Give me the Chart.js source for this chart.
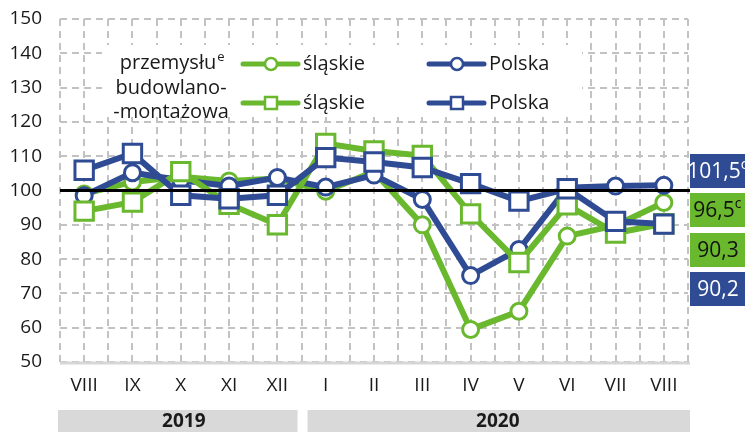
<!DOCTYPE html>
<html>
<head>
<meta charset="utf-8">
<script src="https://cdn.jsdelivr.net/npm/chart.js@4"></script>
<style>
html,body{margin:0;padding:0;background:#fff;}
#wrap{width:745px;height:432px;position:relative;}
</style>
</head>
<body>
<div id="wrap"><canvas id="c"></canvas></div>
<script>
const months = ['VIII','IX','X','XI','XII','I','II','III','IV','V','VI','VII','VIII'];
const years = ['2019','2020'];
const slaskieCircle = [99, 102.5, 104, 102.8, 103.5, 99.8, 105.5, 90, 59.5, 64.8, 86.7, 89.8, 96.5];
const polskaCircle  = [98.5, 105.2, 103, 101.3, 103.8, 101, 104.5, 97.4, 75.2, 82.8, 100.8, 101.3, 101.5];
const slaskieSquare = [94, 96.6, 105.5, 96, 90, 113.7, 111.5, 110.2, 93.2, 79, 95.8, 87.6, 90.3];
const polskaSquare  = [105.9, 110.8, 98.6, 97.6, 98.6, 109.6, 108.3, 106.7, 102, 96.9, 100.5, 91, 90.2];
const endLabels = [
  {text:'101,5', sup:'c', bg:'blue'},
  {text:'96,5', sup:'c', bg:'green'},
  {text:'90,3', sup:'', bg:'green'},
  {text:'90,2', sup:'', bg:'blue'}
];
const legendTitle = ['przemysłu', 'budowlano-', '-montażowa'];
const legendNames = ['śląskie', 'Polska'];

const GREEN = '#6ab82e';
const BLUE = '#2f4b94';
const FONT = "'Open Sans', sans-serif";

const toXY = arr => arr.map((v, i) => ({x: i, y: v}));

function ds(label, data, color, style, order) {
  return {
    label, data: toXY(data), borderColor: color, backgroundColor: '#fff',
    borderWidth: 6, pointStyle: style, pointRadius: style === 'rect' ? 13 : 8,
    pointBorderWidth: 3, pointBackgroundColor: '#fff', pointBorderColor: color,
    order, tension: 0
  };
}

const extras = {
  id: 'extras',
  beforeDatasetsDraw(chart) {
    const {ctx, chartArea, scales} = chart;
    ctx.save();
    ctx.strokeStyle = '#c2c2c2';
    ctx.lineWidth = 2;
    ctx.setLineDash([7, 5]);
    scales.x.ticks.forEach(t => {
      const px = Math.round(scales.x.getPixelForValue(t.value));
      ctx.beginPath();
      ctx.moveTo(px, chartArea.top);
      ctx.lineTo(px, chartArea.bottom);
      ctx.stroke();
    });
    scales.y.ticks.forEach(t => {
      const py = Math.round(scales.y.getPixelForValue(t.value));
      ctx.beginPath();
      ctx.moveTo(chartArea.left, py);
      ctx.lineTo(chartArea.right, py);
      ctx.stroke();
    });
    ctx.setLineDash([]);
    ctx.strokeStyle = '#d6d6d6';
    ctx.lineWidth = 3;
    ctx.beginPath();
    ctx.moveTo(chartArea.left, chartArea.bottom + 1);
    ctx.lineTo(chartArea.right + 2, chartArea.bottom + 1);
    ctx.stroke();
    ctx.restore();
  },
  afterDatasetsDraw(chart) {
    const {ctx, chartArea, scales} = chart;
    const y100 = scales.y.getPixelForValue(100);
    ctx.save();
    ctx.strokeStyle = '#000';
    ctx.lineWidth = 3;
    ctx.beginPath();
    ctx.moveTo(chartArea.left, y100);
    ctx.lineTo(chartArea.right + 2, y100);
    ctx.stroke();
    ctx.restore();
  },
  afterDraw(chart) {
    const {ctx, chartArea, scales} = chart;
    const x = scales.x;
    ctx.save();
    // legend background
    ctx.fillStyle = '#fff';
    ctx.fillRect(102, 45, 480, 72);
    // legend title
    ctx.fillStyle = '#1a1a1a';
    ctx.font = '20px ' + FONT;
    ctx.textBaseline = 'middle';
    ctx.textAlign = 'center';
    const cx = 171;
    const w1 = ctx.measureText(legendTitle[0]).width;
    ctx.fillText(legendTitle[0], cx - 3, 63);
    ctx.font = '13px ' + FONT;
    ctx.textAlign = 'left';
    ctx.fillText('e', cx - 3 + w1 / 2 + 1, 57);
    ctx.font = '20px ' + FONT;
    ctx.textAlign = 'center';
    ctx.fillText(legendTitle[1], cx, 88);
    ctx.fillText(legendTitle[2], cx, 112);
    // legend items
    const items = [
      {x: 243, y: 64, c: GREEN, s: 'circle', t: legendNames[0]},
      {x: 429, y: 64, c: BLUE, s: 'circle', t: legendNames[1]},
      {x: 243, y: 103, c: GREEN, s: 'rect', t: legendNames[0]},
      {x: 429, y: 103, c: BLUE, s: 'rect', t: legendNames[1]}
    ];
    items.forEach(it => {
      ctx.strokeStyle = it.c;
      ctx.lineWidth = 5;
      ctx.lineCap = 'round';
      ctx.beginPath();
      ctx.moveTo(it.x, it.y);
      ctx.lineTo(it.x + 55, it.y);
      ctx.stroke();
      ctx.lineCap = 'butt';
      ctx.fillStyle = '#fff';
      ctx.lineWidth = 2.5;
      const mx = it.x + 28;
      ctx.beginPath();
      if (it.s === 'circle') ctx.arc(mx, it.y, 6, 0, Math.PI * 2);
      else ctx.rect(mx - 6, it.y - 6, 12, 12);
      ctx.fill();
      ctx.stroke();
      ctx.fillStyle = '#1a1a1a';
      ctx.textAlign = 'left';
      ctx.font = '20px ' + FONT;
      ctx.fillText(it.t, it.x + 60, it.y);
    });
    // year band
    const xl = x.getPixelForValue(-0.5), xm = x.getPixelForValue(4.5), xr = x.getPixelForValue(12.5);
    ctx.fillStyle = '#d9d9d9';
    ctx.fillRect(xl - 2, 410, xm - xl - 2, 22);
    ctx.fillRect(xm + 6, 410, xr - xm - 4, 22);
    ctx.fillStyle = '#1a1a1a';
    ctx.font = 'bold 19px ' + FONT;
    ctx.textAlign = 'center';
    ctx.fillText(years[0], (xl + xm) / 2 + 3, 422);
    ctx.fillText(years[1], (xm + xr) / 2 + 3, 422);
    // end labels
    const tops = [154, 193, 233, 272];
    endLabels.forEach((l, i) => {
      ctx.fillStyle = l.bg === 'blue' ? BLUE : GREEN;
      ctx.fillRect(690, tops[i], 60, 34);
      ctx.fillStyle = l.bg === 'blue' ? '#fff' : '#111';
      ctx.font = '21px ' + FONT;
      ctx.textAlign = 'left';
      const tw = ctx.measureText(l.text).width;
      const sw = l.sup ? 8 : 0;
      const sx = 718 - (tw + sw) / 2;
      ctx.fillText(l.text, sx, tops[i] + 18);
      if (l.sup) {
        ctx.font = '14px ' + FONT;
        ctx.fillText(l.sup, sx + tw, tops[i] + 11);
      }
    });
    ctx.restore();
  }
};

new Chart(document.getElementById('c'), {
  type: 'line',
  data: {
    datasets: [
      ds('śląskie', slaskieCircle, GREEN, 'circle', 3),
      ds('Polska', polskaCircle, BLUE, 'circle', 2),
      ds('śląskie', slaskieSquare, GREEN, 'rect', 1),
      ds('Polska', polskaSquare, BLUE, 'rect', 0)
    ]
  },
  options: {
    responsive: true,
    maintainAspectRatio: false,
    animation: false,
    layout: {padding: {top: 19, right: 57, left: 0, bottom: 0}},
    plugins: {legend: {display: false}, tooltip: {enabled: false}},
    scales: {
      x: {
        type: 'linear', min: -0.5, max: 12.5,
        afterFit(s) { s.height = 70; s.paddingLeft = 0; s.paddingRight = 0; },
        afterBuildTicks(s) {
          const t = [];
          for (let v = -0.5; v <= 12.5001; v += 0.5) t.push({value: v});
          s.ticks = t;
        },
        ticks: {
          autoSkip: false, maxRotation: 0, padding: 12, color: '#1a1a1a',
          font: {family: FONT, size: 19},
          callback: v => Number.isInteger(v) ? months[v] : ''
        },
        grid: {display: false, drawTicks: false},
        border: {display: false}
      },
      y: {
        min: 50, max: 150,
        afterFit(s) { s.width = 60; s.paddingTop = 0; s.paddingBottom = 0; },
        ticks: {stepSize: 10, padding: 18, color: '#1a1a1a', font: {family: FONT, size: 19}},
        grid: {display: false, drawTicks: false},
        border: {display: false}
      }
    }
  },
  plugins: [extras]
});
</script>
</body>
</html>
